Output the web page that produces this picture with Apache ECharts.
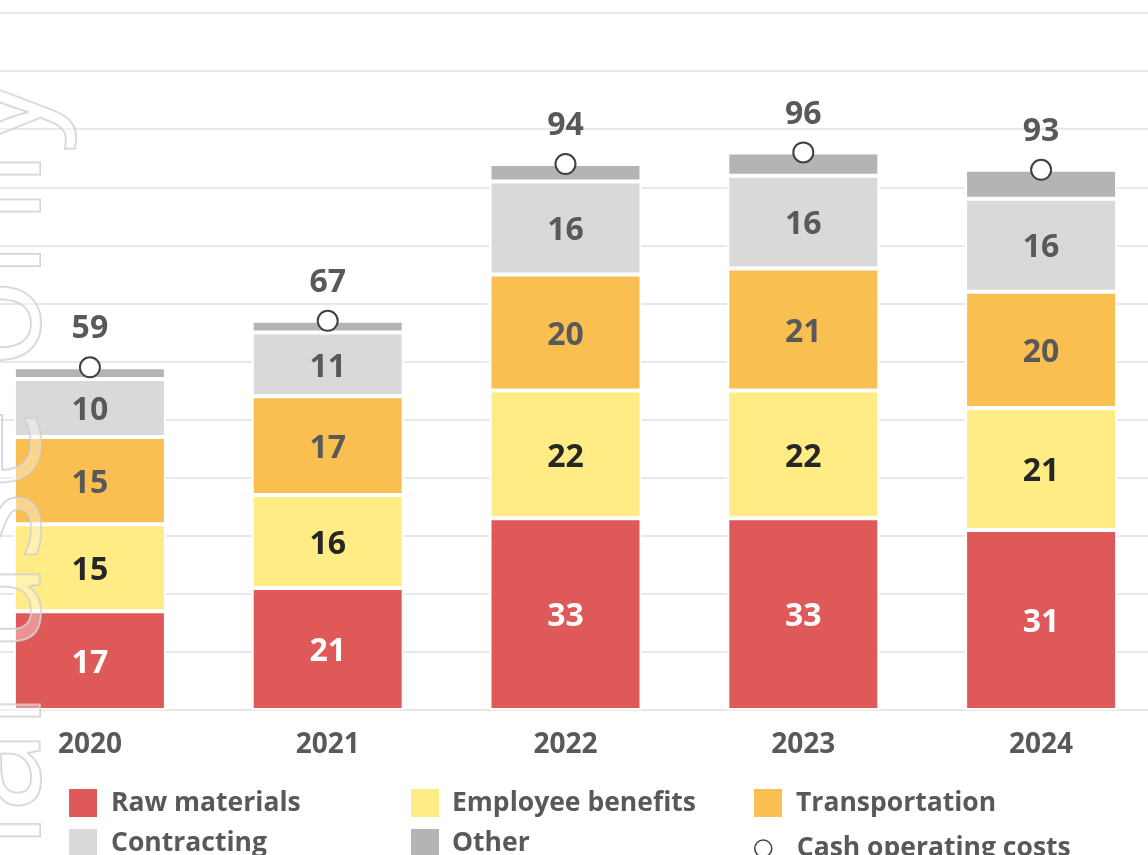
<!DOCTYPE html>
<html>
<head>
<meta charset="utf-8">
<script src="https://cdn.jsdelivr.net/npm/echarts@6/dist/echarts.min.js"></script>
<style>
  html, body { margin: 0; padding: 0; background: #ffffff; }
  body { width: 1148px; height: 855px; overflow: hidden; position: relative; }
  #chart { position: absolute; left: -29px; top: 0; width: 1189px; height: 900px; }
</style>
</head>
<body>
<div id="chart"></div>
<script>
// ---- data ----
const years = ['2020', '2021', '2022', '2023', '2024'];
const rawMaterials = [17, 21, 33, 33, 31];
const employeeBenefits = [15, 16, 22, 22, 21];
const transportation = [15, 17, 20, 21, 20];
const contracting = [10, 11, 16, 16, 16];
const other = [2, 2, 3, 4, 5];
const cashOperatingCosts = [59, 67, 94, 96, 93];
const yTicks = { min: 0, max: 120, interval: 10 };

const FONT = '"Open Sans", "DejaVu Sans", sans-serif';
const GREY_TEXT = '#595959';
const SHIFT = 29; // chart canvas starts 29px left of the page edge

function barSeries(name, data, color, labelColor) {
  return {
    name: name,
    type: 'bar',
    stack: 'total',
    data: data,
    barWidth: 152,
    itemStyle: { color: color, borderColor: '#ffffff', borderWidth: 2 },
    label: labelColor ? {
      show: true,
      position: 'inside',
      offset: [0, 3],
      color: labelColor,
      fontFamily: FONT,
      fontWeight: 'bold',
      fontSize: 32
    } : { show: false },
    emphasis: { disabled: true },
    z: 2
  };
}

const chart = echarts.init(document.getElementById('chart'), null, { renderer: 'canvas' });

function legendText(padLeft) {
  return {
    color: GREY_TEXT, fontFamily: FONT, fontWeight: 'bold', fontSize: 26.5,
    padding: [2, 0, 0, padLeft]
  };
}

const option = {
  backgroundColor: '#ffffff',
  animation: false,
  grid: { left: 0, right: 0, top: 13, bottom: 190, containLabel: false },
  xAxis: {
    type: 'category',
    data: years,
    axisLine: { show: true, lineStyle: { color: '#e6e6e6', width: 2 } },
    axisTick: { show: false },
    axisLabel: {
      color: GREY_TEXT, fontFamily: FONT, fontWeight: 'bold', fontSize: 28, margin: 21
    }
  },
  yAxis: {
    type: 'value',
    min: yTicks.min,
    max: yTicks.max,
    interval: yTicks.interval,
    axisLabel: { show: false },
    axisLine: { show: false },
    axisTick: { show: false },
    splitLine: { show: true, lineStyle: { color: '#e8e8e8', width: 2 } }
  },
  legend: [
    {
      data: ['Raw materials', 'Contracting'],
      orient: 'vertical', left: 67 + SHIFT, top: 787, padding: 0,
      itemWidth: 30, itemHeight: 30, itemGap: 8,
      icon: 'rect', textStyle: legendText(8), selectedMode: false
    },
    {
      data: ['Employee benefits', 'Other'],
      orient: 'vertical', left: 409 + SHIFT, top: 787, padding: 0,
      itemWidth: 30, itemHeight: 30, itemGap: 8,
      icon: 'rect', textStyle: legendText(7), selectedMode: false
    },
    {
      data: ['Transportation'],
      orient: 'vertical', left: 752 + SHIFT, top: 787, padding: 0,
      itemWidth: 30, itemHeight: 30, itemGap: 8,
      icon: 'rect', textStyle: legendText(8), selectedMode: false
    },
    {
      data: [{
        name: 'Cash operating costs', icon: 'circle',
        itemStyle: { color: '#ffffff', borderColor: '#404040', borderWidth: 1.5, opacity: 1 }
      }],
      orient: 'vertical', left: 754 + SHIFT, top: 835, padding: 0,
      itemWidth: 17, itemHeight: 17,
      textStyle: legendText(20), selectedMode: false
    }
  ],
  series: [
    barSeries('Raw materials', rawMaterials, '#DF5959', '#ffffff'),
    barSeries('Employee benefits', employeeBenefits, '#FFEC85', '#262626'),
    barSeries('Transportation', transportation, '#F9BF50', GREY_TEXT),
    barSeries('Contracting', contracting, '#D9D9D9', GREY_TEXT),
    barSeries('Other', other, '#B4B4B4', null),
    {
      name: 'Cash operating costs',
      type: 'scatter',
      data: cashOperatingCosts,
      symbol: 'circle',
      symbolSize: 20,
      itemStyle: { color: '#ffffff', borderColor: '#404040', borderWidth: 2, opacity: 1 },
      label: {
        show: true,
        position: 'top',
        distance: 11,
        color: GREY_TEXT,
        fontFamily: FONT,
        fontWeight: 'bold',
        fontSize: 32
      },
      emphasis: { disabled: true },
      z: 5
    }
  ],
  graphic: [
    {
      type: 'text',
      x: -2 + SHIFT,
      y: 75,
      rotation: Math.PI / 2,
      silent: true,
      z: 100,
      style: {
        text: 'For internal use only',
        font: '149px "Open Sans", sans-serif',
        align: 'right',
        verticalAlign: 'middle',
        fill: 'rgba(255,255,255,0.35)',
        stroke: 'rgba(200,200,200,0.8)',
        lineWidth: 2
      }
    }
  ]
};

chart.setOption(option);
</script>
</body>
</html>
